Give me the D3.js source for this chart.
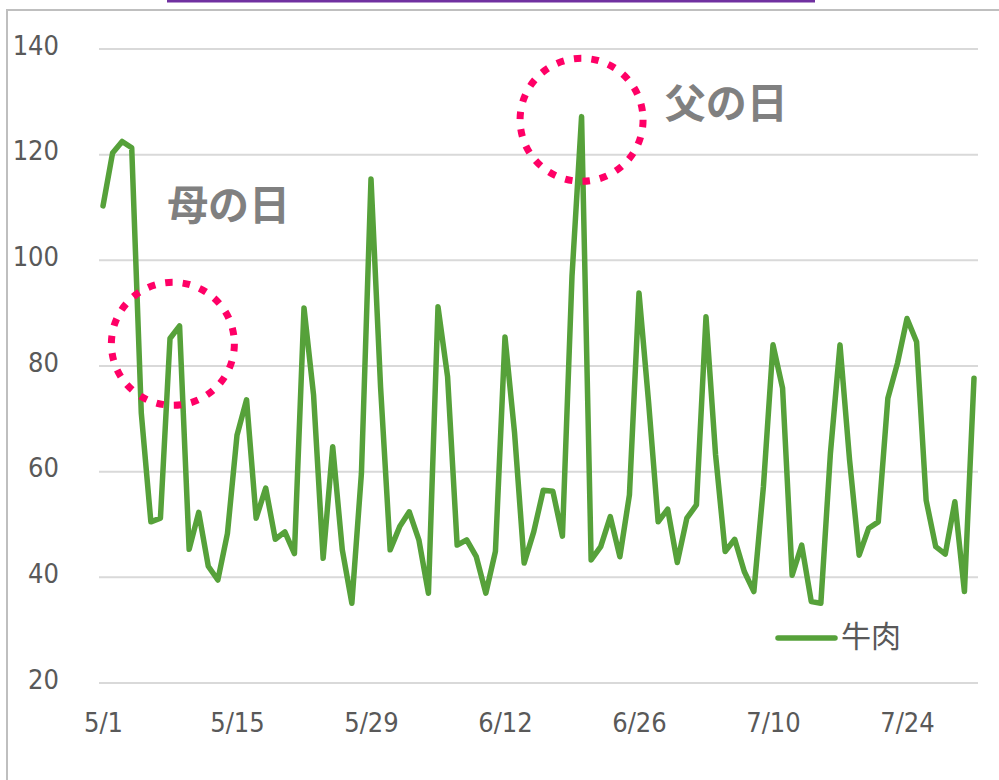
<!DOCTYPE html>
<html><head><meta charset="utf-8">
<script src="https://cdn.jsdelivr.net/npm/d3@7"></script>
<style>
html,body{margin:0;padding:0;background:#fff;}
svg{display:block;}
</style></head>
<body>
<script>
// ---- data ----
const startDate = "2023-05-01";
const beefValues = [
 110.3,120.3,122.5,121.3,71.1,50.5,51.2,85.2,87.6,45.3,
 52.3,42.1,39.5,48.3,66.9,73.6,51.2,56.9,47.2,48.6,
 44.5,91.0,74.5,43.6,64.7,45.2,35.1,59.7,115.4,76.0,
 45.2,49.6,52.4,47.1,37.0,91.2,78.0,46.1,47.1,43.9,
 37.0,44.9,85.5,67.3,42.7,48.6,56.5,56.3,47.8,97.0,
 127.2,43.3,45.8,51.5,43.9,55.6,93.8,73.2,50.5,52.9,
 42.8,51.2,53.7,89.3,63.2,44.9,47.2,41.1,37.3,57.2,
 84.0,75.8,40.4,46.1,35.4,35.1,63.5,84.0,62.2,44.2,
 49.3,50.5,73.9,80.5,89.0,84.6,54.6,45.8,44.4,54.3,
 37.3,77.7
];
const seriesName = "牛肉";
const yTicks = [20,40,60,80,100,120,140];
const xTickLabels = ["5/1","5/15","5/29","6/12","6/26","7/10","7/24"];
const annotations = [
  {label:"母の日", day:7.3, value:84.2, textDay:6.7, textValue:107.6},
  {label:"父の日", day:50.0, value:126.6, textDay:58.7, textValue:127.0}
];

// ---- layout ----
const W = 999, H = 780;
const svg = d3.select("body").append("svg").attr("width", W).attr("height", H);

const t0 = new Date(startDate + "T00:00:00Z");
const dayMs = 86400000;
const data = beefValues.map((v,i)=>({date:new Date(t0.getTime()+i*dayMs), value:v}));

const x = d3.scaleUtc()
  .domain([t0, new Date(t0.getTime()+(beefValues.length-1)*dayMs)])
  .range([103, 974]);
const y = d3.scaleLinear().domain([20,140]).range([683, 49]);

// chart border + top accent
svg.append("rect").attr("x",7).attr("y",10).attr("width",W+10).attr("height",H+10)
  .attr("fill","none").attr("stroke","#bfbfbf").attr("stroke-width",2);
svg.append("line").attr("x1",167).attr("x2",815).attr("y1",1).attr("y2",1)
  .attr("stroke","#7030a0").attr("stroke-width",3);

// gridlines
svg.append("g").selectAll("line").data(yTicks).join("line")
  .attr("x1",99).attr("x2",978)
  .attr("y1",d=>y(d)).attr("y2",d=>y(d))
  .attr("stroke","#d9d9d9").attr("stroke-width",2);

// y axis
const yAxis = d3.axisLeft(y).tickValues(yTicks).tickSize(0).tickPadding(0);
const gy = svg.append("g").attr("transform","translate(59,5)").call(yAxis);
gy.select(".domain").remove();
gy.selectAll("text").attr("font-family","'DejaVu Sans Condensed','DejaVu Sans',sans-serif")
  .attr("font-size",27).attr("fill","#595959").attr("dy","0").attr("dominant-baseline","auto")
  .attr("text-anchor","end").attr("x",0);

// x axis
const xTickDates = xTickLabels.map(s=>{const [m,d]=s.split("/").map(Number);return new Date(Date.UTC(2023,m-1,d));});
const xAxis = d3.axisBottom(x).tickValues(xTickDates).tickFormat((d,i)=>xTickLabels[i]).tickSize(0).tickPadding(0);
const gx = svg.append("g").attr("transform","translate(0,732)").call(xAxis);
gx.select(".domain").remove();
gx.selectAll("text").attr("font-family","'DejaVu Sans Condensed','DejaVu Sans',sans-serif")
  .attr("font-size",27).attr("fill","#595959").attr("dy","0").attr("y",0);

// line
const lineColor = "#56a13a";
svg.append("path").datum(data)
  .attr("d", d3.line().x(d=>x(d.date)).y(d=>y(d.value)))
  .attr("fill","none").attr("stroke",lineColor).attr("stroke-width",5.5)
  .attr("stroke-linejoin","round").attr("stroke-linecap","round");

// annotations
const dayX = dd => x(new Date(t0.getTime()+dd*dayMs));
annotations.forEach(a=>{
  svg.append("circle").attr("cx",dayX(a.day)).attr("cy",y(a.value)).attr("r",61.5)
    .attr("fill","none").attr("stroke","#ff0066").attr("stroke-width",7)
    .attr("stroke-dasharray","7.5 10.1");
  svg.append("text").attr("x",dayX(a.textDay)).attr("y",y(a.textValue))
    .attr("font-family","'Noto Sans CJK JP',sans-serif").attr("font-weight","bold")
    .attr("font-size",41).attr("fill","#808080").text(a.label);
});

// legend
svg.append("line").attr("x1",778).attr("x2",835).attr("y1",638).attr("y2",638)
  .attr("stroke",lineColor).attr("stroke-width",5.5).attr("stroke-linecap","round");
svg.append("text").attr("x",841).attr("y",647)
  .attr("font-family","'Noto Sans CJK JP',sans-serif").attr("font-size",30)
  .attr("fill","#595959").text(seriesName);
</script>
</body></html>
